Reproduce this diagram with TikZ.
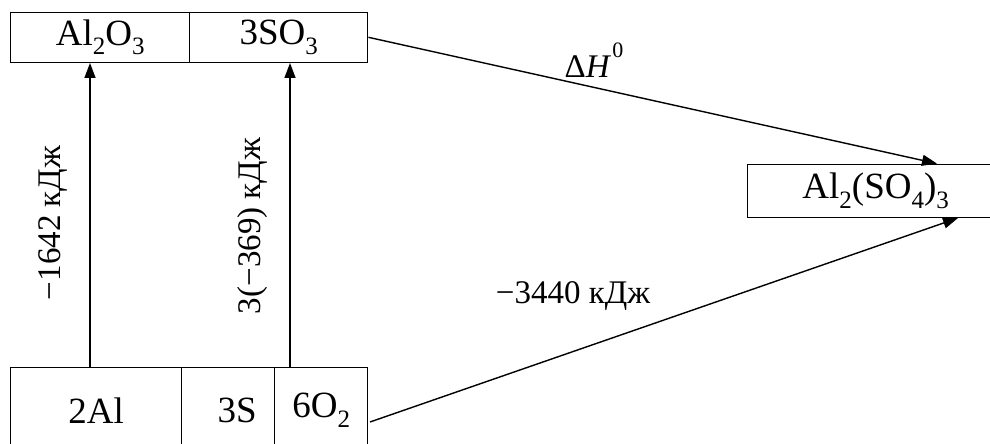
\documentclass[tikz,border=0pt]{standalone}
\usepackage{fontspec}
\setmainfont{Liberation Serif}
\newfontfamily\lserif{Liberation Serif}
\usetikzlibrary{arrows.meta,calc}
\newcommand{\sbs}[1]{\raisebox{-0.26em}{\fontsize{25}{25}\selectfont #1}}
\newcommand{\sps}[1]{\raisebox{0.62em}{\fontsize{22}{22}\selectfont #1}}
\begin{document}
\begin{tikzpicture}[x=1pt,y=1pt,
  cell/.style={draw,line width=1.4pt,rectangle,inner sep=0pt,anchor=south west,font=\lserif\fontsize{37}{40}\selectfont},
  lbl/.style={inner sep=0pt,font=\lserif\fontsize{33}{38}\selectfont},
  arr/.style={line width=1.4pt,-{Triangle[length=15pt,width=11pt]}}]
\clip (0,0) rectangle (990,444);
% top boxes
\node[cell,minimum width=179pt,minimum height=50pt] (al2o3) at (10,381) {Al\sbs{2}O\sbs{3}};
\node[cell,minimum width=178pt,minimum height=50pt] (so3) at (189,381) {3SO\sbs{3}};
% bottom boxes
\node[cell,minimum width=171pt,minimum height=86pt] (al) at (10,-10) {2Al};
\node[cell,minimum width=93pt,minimum height=86pt] (s) at (181,-10) {\hspace*{18pt}3S};
\node[cell,minimum width=93pt,minimum height=86pt] (o2) at (274,-10) {6O\sbs{2}};
% product box
\node[cell,minimum width=256pt,minimum height=53pt] (prod) at (747,226) {Al\sbs{2}(SO\sbs{4})\sbs{3}};
% connector coordinates
\coordinate (xa) at (90,0);
\coordinate (xb) at (290,0);
\coordinate (o2out) at (370,22);
\coordinate (xt) at (937,0);
\coordinate (xu) at (958,0);
% arrows
\draw[arr] (al.north -| xa) -- (al2o3.south -| xa);
\draw[arr] (s.north -| xb) -- (so3.south -| xb);
\draw[arr] (so3.east) -- (prod.north -| xt);
\draw[arr] (o2out) -- (prod.south -| xu);
% labels
\node[lbl] (dh) at (594,384) {Δ\textit{H}\hspace{1pt}\sps{0}};
\node[lbl] (e3) at (573,148) {−3440 кДж};
\node[lbl,rotate=90] (e1) at (53,221) {−1642 кДж};
\node[lbl,rotate=90] (e2) at (253,218) {3(−369) кДж};
\end{tikzpicture}
\end{document}
